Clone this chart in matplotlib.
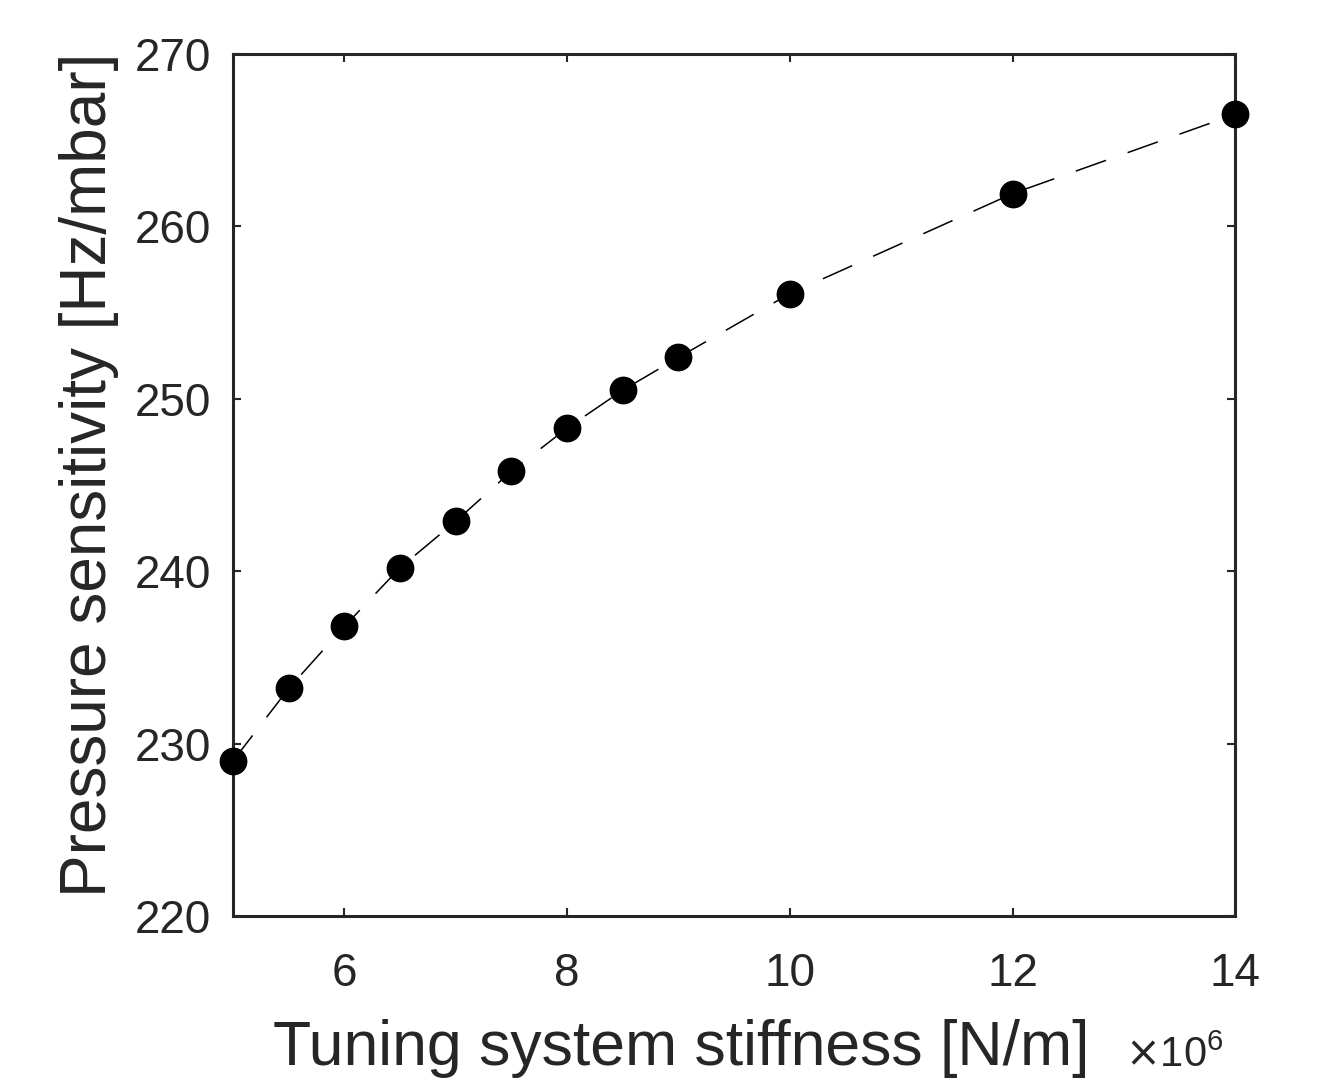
import numpy as np
import matplotlib.pyplot as plt

plt.rcParams['font.family'] = ['Liberation Sans', 'DejaVu Sans']

# stiffness in 1e6 N/m, sensitivity in Hz/mbar
stiffness = [5, 5.5, 6, 6.5, 7, 7.5, 8, 8.5, 9, 10, 12, 14]
sensitivity = [229.0, 233.2, 236.8, 240.2, 242.9, 245.8, 248.3, 250.5, 252.4, 256.1, 261.9, 266.5]

xticks = [6, 8, 10, 12, 14]
yticks = [220, 230, 240, 250, 260, 270]

col = '#262626'

fig = plt.figure(figsize=(13.24, 10.79), dpi=100)
ax = fig.add_axes([0.176, 0.151, 0.757, 0.799])

ax.plot(stiffness, sensitivity, '--', color='k', lw=1.1, dashes=(21, 15))
ax.plot(stiffness, sensitivity, 'o', color='k', ms=19, clip_on=False, zorder=5)

ax.set_xlim(5, 14)
ax.set_ylim(220, 270)
ax.set_xticks(xticks)
ax.set_yticks(yticks)
ax.tick_params(direction='in', length=6, width=1.5, colors=col, labelsize=33,
               top=True, right=True)
ax.tick_params(axis='y', pad=16)
ax.tick_params(axis='x', pad=26)
for s in ax.spines.values():
    s.set_color(col)
    s.set_linewidth(2.2)

# axis labels placed by hand, like the MATLAB layout
fig.text(681 / 1324, 14 / 1079, 'Tuning system stiffness [N/m]', fontsize=45,
         color=col, ha='center', va='baseline')
fig.text(89 / 1324, 1 - 475 / 1079, 'Pressure sensitivity [Hz/mbar]', fontsize=46,
         color=col, ha='center', va='center', rotation=90)
fig.text(1125 / 1324, 12 / 1079, r'$\times\mathregular{10^6}$', fontsize=30,
         color=col, ha='left', va='baseline')

fig.savefig('out.png', dpi=100)
